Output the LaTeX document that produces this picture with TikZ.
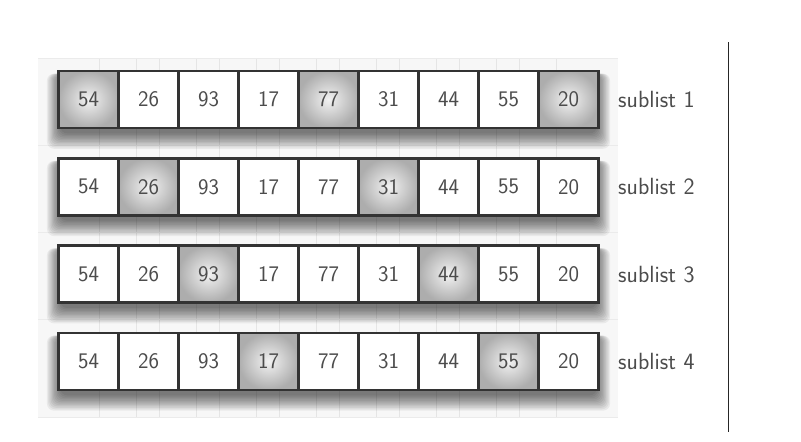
\documentclass[tikz,border=0pt]{standalone}
\usepackage{tikz}
\usetikzlibrary{positioning,backgrounds}

\tikzset{
  cell/.style={draw=black!80, line width=2.3pt, fill=white, minimum width=1.8cm,
    minimum height=1.71cm, inner sep=0pt, text=black!70,
    font=\fontsize{19}{21}\sffamily},
  cell0/.style={cell},
  cell1/.style={cell, shading=radial, inner color=black!5, outer color=black!32},
  lbl/.style={anchor=west, inner sep=0pt, text=black!70, font=\fontsize{20}{22}\sffamily},
  rowshadow/.style={black, opacity=0.055, rounded corners=6pt},
}

\begin{document}
\begin{tikzpicture}[x=0.03cm,y=-0.03cm,node distance=1.8cm,on grid]
   \useasboundingbox (0,0) rectangle (801,442);
   % the four sublists, every fourth cell shaded
   \foreach \r/\y in {1/99.5, 2/186.8, 3/274.1, 4/361.4} {
     \node[cell, draw=none, fill=none] (r\r c0) at (28.5,\y) {};
     \foreach \v [count=\i, remember=\i as \j (initially 0)] in {54,26,93,17,77,31,44,55,20} {
       \pgfmathtruncatemacro\hl{mod(\i-\r,4)==0}
       \node[cell\hl] (r\r c\i) [right=of r\r c\j] {\v};
     }
     \node[lbl] (s\r) at (618,\y) {sublist \r};
   }
   \begin{scope}[on background layer]
     \fill[black!3] (38,58) rectangle (618,417);
     \foreach \x in {99,159,...,519,136,196,...,556}
       \draw[black!10, line width=0.4pt] (\x,58) -- (\x,417);
     \foreach \y in {58,145,232,319,417}
       \draw[black!8, line width=0.6pt] (38,\y) -- (618,\y);
     % soft shadow under each row
     \foreach \r in {1,...,4}
       \foreach \k in {0,...,11}
         \fill[rowshadow] ([shift={(3-1.2*\k,4)}] r\r c1.north west)
           rectangle ([shift={(-3+1.2*\k,4+1.4*\k)}] r\r c9.south east);
   \end{scope}
   % divider
   \coordinate (top) at (728.5,42);
   \coordinate (bot) at (728.5,432);
   \draw[black!85, line width=1.6pt] (top) -- (bot);
\end{tikzpicture}
\end{document}
